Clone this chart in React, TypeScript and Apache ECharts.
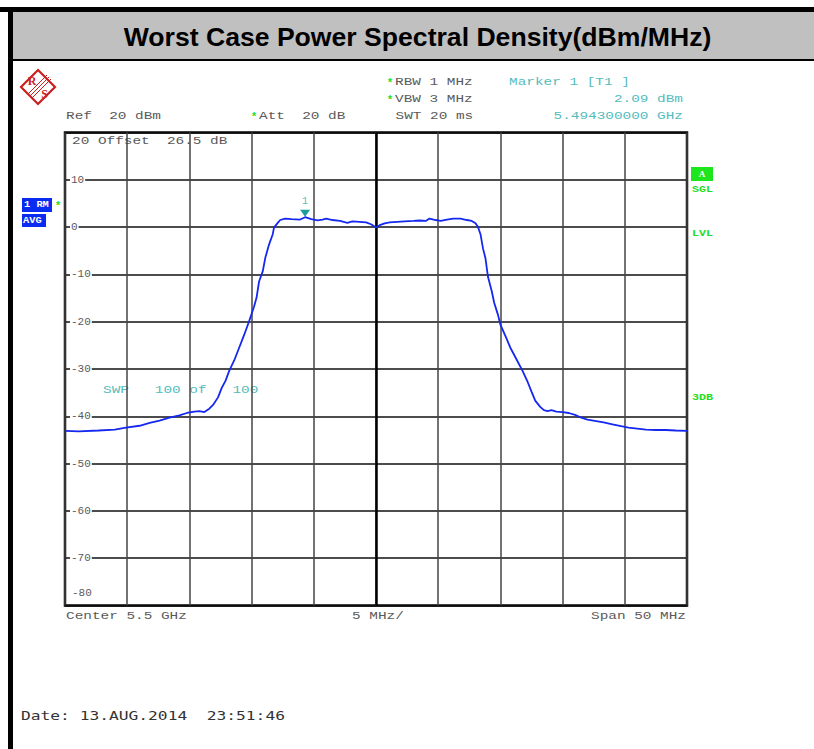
import React, { useEffect, useRef } from "react";
import * as echarts from "echarts";

// Frequency offset from centre (MHz), centre = 5.5 GHz, span 50 MHz
const freqs = [
  -25.0, -23.9, -22.3, -21.0, -20.1, -19.0, -18.2, -17.4, -16.6, -15.8,
  -15.2, -14.6, -14.2, -13.8, -13.4, -13.1, -12.7, -12.4, -12.1, -11.8,
  -11.4, -11.0, -10.6, -10.2, -9.8, -9.6, -9.4, -9.1, -8.9, -8.6,
  -8.3, -8.2, -7.9, -7.7, -7.3, -6.8, -6.1, -5.7, -5.2, -4.7,
  -4.3, -4.0, -3.5, -2.9, -2.3, -1.9, -1.3, -0.8, -0.4, 0.0,
  0.3, 0.7, 1.1, 1.7, 2.3, 3.0, 3.5, 4.0, 4.3, 4.8,
  5.2, 5.7, 6.2, 6.8, 7.3, 7.7, 8.0, 8.2, 8.4, 8.6,
  8.8, 9.0, 9.3, 9.5, 9.8, 10.0, 10.4, 10.8, 11.3, 11.8,
  12.2, 12.5, 12.8, 13.2, 13.5, 13.8, 14.1, 14.5, 15.0, 15.5,
  16.0, 16.5, 17.0, 17.7, 18.3, 19.0, 19.7, 20.3, 21.0, 21.7,
  22.5, 23.3, 24.1, 25.0,
];

// Power spectral density (dBm/MHz)
const levels = [
  -43.1, -43.2, -43.0, -42.8, -42.4, -42.0, -41.4, -40.9, -40.3, -39.8,
  -39.3, -39.0, -38.9, -39.1, -38.4, -37.6, -36.0, -34.0, -32.5, -30.4,
  -28.2, -25.5, -22.8, -19.9, -16.8, -14.9, -11.5, -9.3, -6.5, -3.7,
  -1.5, -0.1, 0.9, 1.5, 1.8, 1.7, 1.6, 2.09, 1.7, 1.4,
  1.6, 1.8, 1.5, 1.3, 0.9, 1.2, 1.1, 1.0, 0.6, -0.1,
  0.4, 0.8, 1.0, 1.1, 1.2, 1.3, 1.4, 1.3, 1.8, 1.5,
  1.3, 1.6, 1.8, 1.8, 1.5, 1.3, 0.8, 0.0, -1.5, -4.5,
  -6.6, -10.5, -13.5, -16.0, -18.5, -20.6, -23.0, -25.5, -28.0, -30.5,
  -32.8, -34.8, -36.7, -38.0, -38.7, -38.9, -38.7, -39.0, -39.1, -39.3,
  -39.7, -40.3, -40.7, -41.0, -41.3, -41.7, -42.1, -42.4, -42.6, -42.8,
  -42.9, -42.9, -43.0, -43.1,
];

const markerFreq = -5.7;
const markerLevel = 2.09;

const yMin = -80;
const yMax = 20;
const yStep = 10;
const xMin = -25;
const xMax = 25;
const xStep = 5;

const titleText = "Worst Case Power Spectral Density(dBm/MHz)";
const dateText = "Date: 13.AUG.2014  23:51:46";

const GRAY = "#5a5a5a";
const CYAN = "#55bcbc";
const GREEN = "#22dd22";
const BLUE = "#0a2cf0";
const MONO = '"Liberation Mono", "Courier New", monospace';

function mono(text: string, x: number, y: number, fill: string, align: string = "left", size = 11, sx = 1.31): any {
  return {
    type: "text",
    x,
    y,
    scaleX: sx,
    silent: true,
    style: {
      text,
      fill,
      fontFamily: MONO,
      fontSize: size,
      align,
      verticalAlign: "middle",
    },
  };
}

function star(x: number, y: number): any {
  return {
    type: "text",
    x,
    y,
    silent: true,
    style: { text: "*", fill: GREEN, fontFamily: MONO, fontSize: 11, fontWeight: "bold", align: "center", verticalAlign: "middle" },
  };
}

function smallGreen(text: string, x: number, y: number): any {
  return {
    type: "text",
    x,
    y,
    scaleX: 1.3,
    silent: true,
    style: { text, fill: GREEN, fontFamily: MONO, fontSize: 9, fontWeight: "bold", align: "left", verticalAlign: "middle" },
  };
}

export default function App() {
  const ref = useRef<HTMLDivElement>(null);

  useEffect(() => {
    if (!ref.current) return;
    const chart = echarts.init(ref.current, null, { renderer: "svg" });
    const data = freqs.map((f, i) => [f, levels[i]]);

    const graphics: any[] = [
      // outer frame
      { type: "rect", shape: { x: 0, y: 7, width: 814, height: 5 }, style: { fill: "#000" }, silent: true },
      { type: "rect", shape: { x: 8, y: 7, width: 5, height: 742 }, style: { fill: "#000" }, silent: true },
      { type: "rect", shape: { x: 13, y: 12, width: 801, height: 47 }, style: { fill: "#c0c0c0" }, silent: true },
      { type: "rect", shape: { x: 13, y: 59, width: 801, height: 2 }, style: { fill: "#000" }, silent: true },
      {
        type: "text",
        x: 417.5,
        y: 37,
        silent: true,
        style: {
          text: titleText,
          fill: "#000",
          fontFamily: '"Liberation Sans", Arial, sans-serif',
          fontWeight: "bold",
          fontSize: 26.6,
          align: "center",
          verticalAlign: "middle",
        },
      },
      // R&S logo
      {
        type: "polygon",
        shape: { points: [[38, 70], [55, 87], [38, 104], [21, 87]] },
        style: { fill: "#fff", stroke: "#cc1f1f", lineWidth: 2.2 },
        silent: true,
      },
      { type: "line", shape: { x1: 28, y1: 94, x2: 47, y2: 75 }, style: { stroke: "#cc1f1f", lineWidth: 1 }, silent: true },
      { type: "line", shape: { x1: 30, y1: 96, x2: 49, y2: 77 }, style: { stroke: "#cc1f1f", lineWidth: 1 }, silent: true },
      { type: "line", shape: { x1: 32, y1: 98, x2: 51, y2: 79 }, style: { stroke: "#cc1f1f", lineWidth: 1 }, silent: true },
      { type: "text", x: 32, y: 81, silent: true, style: { text: "R", fill: "#cc1f1f", fontFamily: '"Liberation Serif", serif', fontWeight: "bold", fontSize: 12, align: "center", verticalAlign: "middle" } },
      { type: "text", x: 44.5, y: 93.5, silent: true, style: { text: "S", fill: "#cc1f1f", fontFamily: '"Liberation Serif", serif', fontWeight: "bold", fontSize: 12, align: "center", verticalAlign: "middle" } },
      // header texts
      star(390, 83),
      mono("RBW 1 MHz", 395, 82, GRAY),
      star(390, 100),
      mono("VBW 3 MHz", 395, 99, GRAY),
      mono("SWT 20 ms", 395.5, 116, GRAY),
      mono("Ref  20 dBm", 66, 116, GRAY),
      star(254, 117),
      mono("Att  20 dB", 259, 116, GRAY),
      mono("Marker 1 [T1 ]", 509, 82, CYAN),
      mono("2.09 dBm", 683, 99, CYAN, "right"),
      mono("5.494300000 GHz", 683, 116, CYAN, "right"),
      // in-plot texts
      mono("20 Offset  26.5 dB", 72, 140.5, GRAY),
      { type: "text", x: 72, y: 593, silent: true, style: { text: "-80", fill: GRAY, fontFamily: MONO, fontSize: 11, align: "left", verticalAlign: "middle" } },
      mono("SWP   100 of   100", 103, 390, CYAN),
      // bottom axis texts
      mono("Center 5.5 GHz", 66, 616, GRAY),
      mono("5 MHz/", 352, 616, GRAY),
      mono("Span 50 MHz", 686, 616, GRAY, "right"),
      // left blue boxes
      { type: "rect", shape: { x: 22, y: 198, width: 30, height: 14 }, style: { fill: BLUE }, silent: true },
      { type: "text", x: 24, y: 205, scaleX: 1.15, silent: true, style: { text: "1 RM", fill: "#fff", fontFamily: MONO, fontWeight: "bold", fontSize: 9, align: "left", verticalAlign: "middle" } },
      { type: "rect", shape: { x: 22, y: 214, width: 24, height: 13 }, style: { fill: BLUE }, silent: true },
      { type: "text", x: 23, y: 220.5, scaleX: 1.15, silent: true, style: { text: "AVG", fill: "#fff", fontFamily: MONO, fontWeight: "bold", fontSize: 9, align: "left", verticalAlign: "middle" } },
      star(58, 206),
      // right green indicators
      { type: "rect", shape: { x: 691, y: 167, width: 22, height: 14 }, style: { fill: "#1ee61e" }, silent: true },
      { type: "text", x: 702, y: 174, silent: true, style: { text: "A", fill: "#fff", fontFamily: '"Liberation Serif", serif', fontWeight: "bold", fontSize: 9, align: "center", verticalAlign: "middle" } },
      smallGreen("SGL", 692, 189.5),
      smallGreen("LVL", 692, 233.5),
      smallGreen("3DB", 692, 397.5),
      // date
      {
        type: "text",
        x: 21,
        y: 715,
        scaleX: 1.25,
        silent: true,
        style: { text: dateText, fill: "#333", fontFamily: '"DejaVu Sans Mono", monospace', fontSize: 13, align: "left", verticalAlign: "middle" },
      },
    ];

    chart.setOption({
      animation: false,
      backgroundColor: "#fff",
      grid: {
        left: 65,
        right: 127,
        top: 132.5,
        bottom: 143.5,
        show: true,
        borderColor: "#000",
        borderWidth: 2.5,
        containLabel: false,
      },
      xAxis: {
        type: "value",
        min: xMin,
        max: xMax,
        interval: xStep,
        axisLine: { show: false },
        axisTick: { show: false },
        axisLabel: { show: false },
        splitLine: { show: true, lineStyle: { color: "#444", width: 1.5 } },
      },
      yAxis: {
        type: "value",
        min: yMin,
        max: yMax,
        interval: yStep,
        axisLine: { show: false },
        axisTick: { show: false },
        axisLabel: {
          show: true,
          inside: true,
          margin: 5,
          showMinLabel: false,
          showMaxLabel: false,
          color: GRAY,
          fontFamily: MONO,
          fontSize: 11,
          backgroundColor: "#fff",
          padding: [1, 1, 1, 1],
        },
        splitLine: { show: true, lineStyle: { color: "#111", width: 1.5 } },
      },
      series: [
        {
          type: "line",
          data,
          showSymbol: false,
          symbol: "none",
          silent: true,
          lineStyle: { color: "#1428f0", width: 1.8 },
          z: 5,
          markLine: {
            silent: true,
            symbol: "none",
            label: { show: false },
            lineStyle: { color: "#000", width: 2.5, type: "solid" },
            data: [{ xAxis: 0 }],
            z: 3,
          },
          markPoint: {
            silent: true,
            symbol: "triangle",
            symbolRotate: 180,
            symbolSize: [10, 7],
            symbolOffset: [0, -4],
            itemStyle: { color: "#1a9c9c" },
            label: {
              show: true,
              position: "top",
              distance: 3,
              formatter: "1",
              color: CYAN,
              fontFamily: MONO,
              fontSize: 10,
            },
            data: [{ coord: [markerFreq, markerLevel] }],
          },
        },
      ],
      graphic: graphics,
    });

    return () => chart.dispose();
  }, []);

  return (
    <div
      ref={ref}
      style={{ position: "fixed", left: 0, top: 0, width: 814, height: 749, background: "#fff" }}
    />
  );
}
